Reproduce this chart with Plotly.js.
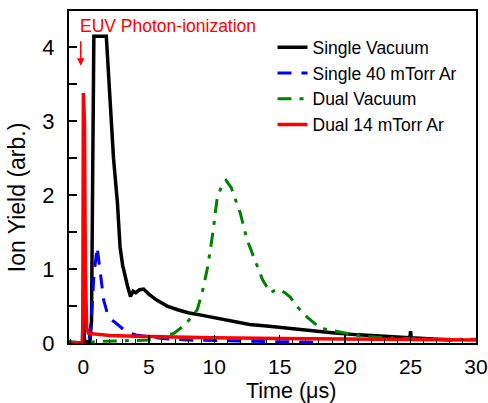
<!DOCTYPE html>
<html>
<head>
<meta charset="utf-8">
<script src="https://cdn.plot.ly/plotly-3.0.1.min.js"></script>
<style>html,body{margin:0;padding:0;background:#fff;}#chart{width:488px;height:403px;}</style>
</head>
<body>
<div id="chart"></div>
<script>
// Single Vacuum (black)
const tSingleVac = [-1.1, -0.08, 0.0, 0.08, 0.5, 0.62, 0.72, 0.8, 1.75, 2.0, 2.3, 2.6, 2.8, 3.0, 3.2, 3.4, 3.6, 3.8, 4.0, 4.3, 4.6, 5.0, 5.6, 6.4, 7.2, 8.0, 8.9, 10.0, 11.0, 12.7, 14.0, 15.5, 17.3, 19.0, 21.0, 23.4, 24.95, 25.0, 25.05, 27.0, 28.2];
const ySingleVac = [0.0, 0.0, 0.52, 0.02, 0.02, 0.3, 2.5, 4.15, 4.15, 3.4, 2.5, 1.9, 1.3, 1.05, 0.89, 0.75, 0.63, 0.70, 0.68, 0.72, 0.73, 0.66, 0.58, 0.50, 0.45, 0.41, 0.38, 0.34, 0.30, 0.25, 0.23, 0.20, 0.17, 0.14, 0.11, 0.08, 0.07, 0.16, 0.07, 0.05, 0.04];
// Single 40 mTorr Ar (blue dashed)
const tSingleAr = [-1.1, 0.4, 0.6, 0.8, 1.05, 1.3, 1.55, 1.8, 2.1, 2.4, 2.8, 3.3, 4.0, 5.0, 6.0, 8.0, 10.0, 14.0, 18.0];
const ySingleAr = [0.0, 0.0, 0.3, 0.9, 1.3, 0.95, 0.58, 0.42, 0.32, 0.28, 0.22, 0.15, 0.11, 0.08, 0.06, 0.04, 0.03, 0.02, 0.01];
// Dual Vacuum (green dash-dot)
const tDualVac = [-1.1, 0.0, 1.0, 3.0, 5.0, 6.0, 6.9, 7.8, 8.7, 9.1, 9.5, 9.9, 10.2, 10.6, 10.9, 11.3, 11.6, 12.0, 12.5, 13.1, 13.7, 14.3, 14.7, 15.0, 15.4, 15.8, 16.4, 17.1, 18.1, 19.6, 21.0, 23.0, 25.0, 27.0, 30.0];
const yDualVac = [0.02, 0.0, 0.02, 0.03, 0.04, 0.08, 0.13, 0.25, 0.45, 0.7, 1.03, 1.5, 1.93, 2.15, 2.2, 2.1, 1.95, 1.75, 1.4, 1.12, 0.85, 0.68, 0.72, 0.72, 0.68, 0.62, 0.48, 0.35, 0.2, 0.15, 0.1, 0.07, 0.06, 0.05, 0.05];
// Dual 14 mTorr Ar (red)
const tDualAr = [-1.1, -0.05, 0.0, 0.08, 0.15, 0.25, 0.4, 1.0, 2.0, 4.0, 6.0, 10.0, 15.0, 20.0, 25.0, 30.0];
const yDualAr = [0.0, 0.0, 3.38, 3.0, 1.0, 0.2, 0.13, 0.12, 0.10, 0.09, 0.08, 0.07, 0.06, 0.05, 0.04, 0.04];

const seriesNames = ["Single Vacuum", "Single 40 mTorr Ar", "Dual Vacuum", "Dual 14 mTorr Ar"];
const xTicks = [0, 5, 10, 15, 20, 25, 30];
const yTicks = [0, 1, 2, 3, 4];

const traces = [
  {x: tSingleVac, y: ySingleVac, name: seriesNames[0], mode: "lines", line: {color: "#000000", width: 3.5}},
  {x: tSingleAr, y: ySingleAr, name: seriesNames[1], mode: "lines", line: {color: "#0000ff", width: 3, dash: "14px,10px"}},
  {x: tDualVac, y: yDualVac, name: seriesNames[2], mode: "lines", line: {color: "#008000", width: 3, dash: "14px,8px,4px,8px"}},
  {x: tDualAr, y: yDualAr, name: seriesNames[3], mode: "lines", line: {color: "#ff0000", width: 3.5}}
];

const font = "Liberation Sans, Arial, sans-serif";
const layout = {
  width: 488, height: 403,
  margin: {l: 69, r: 12, t: 11, b: 60},
  paper_bgcolor: "#ffffff", plot_bgcolor: "#ffffff",
  font: {family: font, color: "#000000", size: 20},
  showlegend: true,
  legend: {x: 0.5, y: 0.945, xanchor: "left", yanchor: "top", bgcolor: "rgba(0,0,0,0)",
           font: {family: font, size: 17.5, color: "#000"}, tracegroupgap: 0},
  xaxis: {range: [-1.1, 30], tickvals: xTicks, ticktext: xTicks.map(String),
          ticks: "inside", ticklen: 8, tickwidth: 1.5, tickcolor: "#000",
          minor: {dtick: 1, ticks: "inside", ticklen: 4, tickcolor: "#000", tickwidth: 1},
          showline: true, linecolor: "#000", linewidth: 2, mirror: true,
          showgrid: false, zeroline: false, tickfont: {size: 21}, ticklabelstandoff: 4,
          ticklabeloverflow: "allow"},
  yaxis: {range: [0, 4.49], tickvals: yTicks, ticktext: yTicks.map(String),
          ticks: "inside", ticklen: 8, tickwidth: 1.5, tickcolor: "#000",
          minor: {dtick: 0.5, ticks: "inside", ticklen: 8, tickcolor: "#000", tickwidth: 1.5},
          showline: true, linecolor: "#000", linewidth: 2, mirror: true,
          showgrid: false, zeroline: false, tickfont: {size: 22}, ticklabelstandoff: 8},
  annotations: [
    {xref: "paper", yref: "paper", x: 0.545, y: -0.146, xanchor: "center", yanchor: "middle",
     text: "Time (\u03bcs)", showarrow: false, font: {size: 21.5}},
    {xref: "paper", yref: "paper", x: -0.127, y: 0.44, xanchor: "center", yanchor: "middle",
     text: "Ion Yield (arb.)", textangle: -90, showarrow: false, font: {size: 23}},
    {xref: "x", yref: "paper", x: -0.45, y: 0.955, xanchor: "left", yanchor: "middle",
     text: "EUV Photon-ionization", showarrow: false, font: {size: 17.5, color: "#ff0000"}},
    {xref: "x", yref: "y", x: -0.2, y: 3.75, ax: -0.2, ay: 4.1, axref: "x", ayref: "y",
     text: "", showarrow: true, arrowhead: 2, arrowsize: 1, arrowwidth: 1.5, arrowcolor: "#ff0000"}
  ]
};

Plotly.newPlot("chart", traces, layout, {displayModeBar: false, staticPlot: true});
</script>
</body>
</html>
